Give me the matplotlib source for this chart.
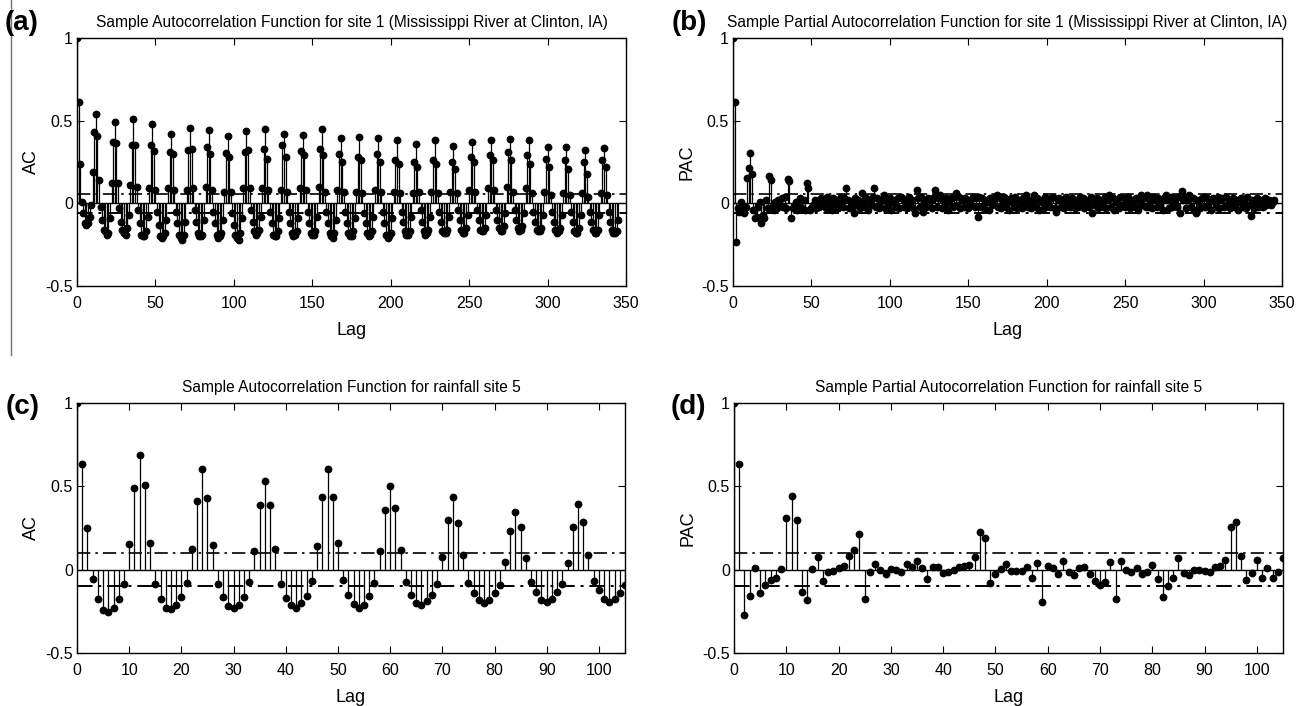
import numpy as np
import matplotlib
matplotlib.use("Agg")
import matplotlib.pyplot as plt
from matplotlib.lines import Line2D

plt.rcParams['font.family'] = ['Liberation Sans', 'DejaVu Sans']

# ---------------- data ----------------
# (a) ACF, site 1 (rows of 12 lags starting at lag 0)
acf_site1_rows = [
    [1.000, 0.613, 0.235, 0.01, -0.06, -0.12, -0.13, -0.12, -0.08, -0.01, 0.19, 0.432],
    [0.543, 0.406, 0.14, -0.02, -0.10, -0.16, -0.17, -0.19, -0.18, -0.09, 0.12, 0.370],
    [0.493, 0.366, 0.12, -0.03, -0.11, -0.16, -0.18, -0.19, -0.15, -0.07, 0.11, 0.354],
    [0.509, 0.352, 0.10, -0.04, -0.12, -0.19, -0.20, -0.20, -0.17, -0.08, 0.09, 0.352],
    [0.478, 0.318, 0.08, -0.05, -0.13, -0.20, -0.21, -0.20, -0.18, -0.10, 0.09, 0.310],
    [0.418, 0.300, 0.08, -0.05, -0.12, -0.19, -0.21, -0.22, -0.19, -0.11, 0.08, 0.320],
    [0.456, 0.330, 0.09, -0.04, -0.11, -0.18, -0.20, -0.20, -0.19, -0.10, 0.10, 0.342],
    [0.443, 0.297, 0.08, -0.05, -0.12, -0.19, -0.21, -0.20, -0.18, -0.10, 0.07, 0.305],
    [0.406, 0.280, 0.07, -0.06, -0.13, -0.19, -0.21, -0.22, -0.18, -0.09, 0.09, 0.313],
    [0.437, 0.320, 0.09, -0.04, -0.11, -0.17, -0.19, -0.18, -0.16, -0.08, 0.09, 0.331],
    [0.448, 0.270, 0.08, -0.05, -0.12, -0.19, -0.20, -0.20, -0.17, -0.09, 0.08, 0.350],
    [0.418, 0.280, 0.07, -0.05, -0.12, -0.18, -0.20, -0.19, -0.17, -0.09, 0.09, 0.315],
    [0.412, 0.290, 0.08, -0.05, -0.12, -0.18, -0.19, -0.19, -0.17, -0.08, 0.10, 0.330],
    [0.449, 0.290, 0.07, -0.05, -0.12, -0.18, -0.20, -0.21, -0.18, -0.10, 0.08, 0.300],
    [0.398, 0.250, 0.07, -0.05, -0.12, -0.18, -0.20, -0.20, -0.17, -0.09, 0.07, 0.280],
    [0.400, 0.260, 0.06, -0.06, -0.12, -0.18, -0.20, -0.19, -0.17, -0.08, 0.08, 0.300],
    [0.398, 0.250, 0.07, -0.05, -0.12, -0.19, -0.21, -0.20, -0.18, -0.09, 0.07, 0.265],
    [0.382, 0.240, 0.06, -0.05, -0.11, -0.17, -0.19, -0.19, -0.17, -0.08, 0.06, 0.250],
    [0.357, 0.220, 0.07, -0.04, -0.11, -0.17, -0.19, -0.18, -0.16, -0.08, 0.07, 0.260],
    [0.386, 0.240, 0.06, -0.05, -0.11, -0.17, -0.18, -0.18, -0.16, -0.08, 0.07, 0.250],
    [0.348, 0.210, 0.06, -0.04, -0.10, -0.16, -0.18, -0.18, -0.15, -0.07, 0.08, 0.280],
    [0.372, 0.250, 0.07, -0.04, -0.10, -0.16, -0.17, -0.17, -0.15, -0.07, 0.09, 0.295],
    [0.386, 0.260, 0.08, -0.04, -0.10, -0.15, -0.17, -0.17, -0.14, -0.06, 0.10, 0.310],
    [0.392, 0.260, 0.07, -0.04, -0.10, -0.15, -0.17, -0.16, -0.14, -0.06, 0.09, 0.290],
    [0.386, 0.235, 0.06, -0.05, -0.11, -0.16, -0.17, -0.17, -0.15, -0.07, 0.07, 0.270],
    [0.342, 0.220, 0.05, -0.05, -0.11, -0.16, -0.18, -0.17, -0.15, -0.07, 0.06, 0.265],
    [0.338, 0.210, 0.05, -0.05, -0.11, -0.17, -0.18, -0.18, -0.15, -0.07, 0.06, 0.250],
    [0.322, 0.180, 0.04, -0.05, -0.11, -0.16, -0.18, -0.18, -0.16, -0.07, 0.06, 0.260],
    [0.333, 0.220, 0.05, -0.05, -0.11, -0.16, -0.18, -0.18, -0.17, -0.10],
]

# (b) PACF, site 1 (rows of 12 lags starting at lag 0)
pacf_site1_rows = [
    [1.000, 0.613, -0.235, -0.03, -0.05, 0.01, -0.04, -0.06, -0.02, 0.155, 0.215, 0.305],
    [0.180, -0.04, -0.09, -0.08, -0.02, 0.01, -0.12, -0.07, -0.09, 0.02, -0.03, 0.166],
    [0.143, -0.02, -0.04, 0.01, -0.03, 0.02, -0.01, 0.03, -0.02, 0.04, -0.03, 0.150],
    [0.135, -0.09, -0.03, -0.02, 0.01, -0.04, -0.02, 0.03, -0.03, 0.02, -0.04, 0.120],
    [0.095, -0.04, -0.03, -0.01, 0.02, -0.03, 0.01, -0.02, 0.03, -0.01, 0.02, -0.03],
    [0.040, -0.02, 0.01, -0.04, 0.03, -0.01, 0.02, -0.03, 0.01, 0.04, -0.02, 0.03],
    [0.090, 0.02, -0.03, 0.01, -0.02, -0.06, 0.03, -0.01, 0.02, -0.03, 0.063, 0.01],
    [-0.020, 0.03, -0.04, 0.02, -0.01, 0.04, 0.09, -0.02, 0.03, -0.03, 0.01, 0.02],
    [0.050, -0.03, 0.02, -0.01, 0.03, -0.04, 0.01, 0.02, -0.02, 0.03, -0.03, 0.04],
    [0.030, -0.02, 0.01, -0.03, 0.04, -0.01, 0.02, -0.03, -0.06, 0.08, 0.03, -0.02],
    [0.040, -0.05, 0.01, -0.02, 0.03, -0.01, 0.02, -0.03, 0.04, 0.08, -0.02, 0.03],
    [0.050, -0.03, 0.02, -0.01, 0.03, -0.04, 0.01, 0.03, -0.02, 0.04, 0.063, -0.01],
    [0.040, -0.03, 0.02, -0.02, 0.03, 0.01, -0.03, 0.02, -0.01, 0.04, -0.02, 0.03],
    [-0.080, 0.04, -0.02, 0.03, -0.03, 0.01, 0.02, -0.04, 0.03, -0.01, 0.02, 0.04],
    [0.050, -0.02, 0.03, -0.03, 0.01, 0.04, -0.02, 0.02, -0.04, 0.03, 0.01, -0.02],
    [0.040, -0.03, 0.02, 0.01, -0.03, 0.03, -0.01, 0.05, -0.02, 0.02, -0.03, 0.01],
    [0.050, -0.02, 0.03, -0.04, 0.02, 0.01, -0.03, 0.04, -0.01, 0.02, -0.02, 0.03],
    [0.040, -0.03, -0.05, 0.02, 0.03, -0.02, 0.01, -0.03, 0.04, -0.01, 0.02, -0.02],
    [0.030, 0.01, -0.03, 0.02, -0.02, 0.04, -0.01, 0.03, -0.03, 0.02, 0.01, -0.02],
    [0.040, -0.06, 0.02, -0.01, 0.03, -0.03, 0.02, 0.01, -0.02, 0.04, -0.03, 0.02],
    [0.050, -0.02, 0.03, -0.04, 0.01, 0.02, -0.03, 0.04, -0.01, 0.03, -0.02, 0.01],
    [0.040, -0.03, 0.02, 0.01, -0.02, 0.03, -0.04, 0.02, 0.05, -0.01, 0.03, -0.02],
    [0.050, -0.02, 0.01, -0.03, 0.04, 0.02, -0.02, 0.03, -0.01, 0.02, -0.04, 0.03],
    [0.050, 0.02, -0.03, 0.04, -0.02, 0.01, 0.03, -0.02, 0.04, -0.06, 0.075, 0.02],
    [0.040, -0.03, 0.02, 0.05, -0.02, 0.03, -0.04, -0.06, 0.02, 0.01, -0.03, 0.03],
    [0.040, -0.02, 0.03, -0.01, 0.02, -0.04, 0.03, 0.01, -0.02, 0.04, -0.03, 0.02],
    [0.030, -0.02, 0.04, -0.01, 0.02, -0.03, 0.01, 0.03, -0.02, 0.02, -0.04, 0.01],
    [0.030, -0.02, 0.02, -0.03, 0.04, -0.01, -0.075, 0.02, -0.03, 0.01, 0.03, -0.02],
    [0.020, 0.01, -0.02, 0.03, -0.01, 0.02, 0.02, -0.01, 0.01, 0.02],
]

# (c) ACF, rainfall site 5, lags 0..105
acf_rain5 = [
    1.000, 0.636, 0.250, -0.054, -0.178, -0.244, -0.254, -0.230, -0.178, -0.084,
    0.154, 0.492, 0.688, 0.506, 0.162, -0.084, -0.178, -0.230, -0.234, -0.214,
    -0.164, -0.078, 0.126, 0.414, 0.606, 0.430, 0.146, -0.084, -0.164, -0.218,
    -0.228, -0.210, -0.164, -0.074, 0.110, 0.390, 0.534, 0.390, 0.126, -0.084,
    -0.170, -0.214, -0.230, -0.198, -0.156, -0.070, 0.140, 0.434, 0.606, 0.434,
    0.158, -0.064, -0.154, -0.208, -0.228, -0.210, -0.158, -0.080, 0.114, 0.356,
    0.504, 0.372, 0.118, -0.072, -0.150, -0.198, -0.210, -0.186, -0.150, -0.084,
    0.074, 0.298, 0.436, 0.282, 0.088, -0.080, -0.140, -0.184, -0.200, -0.184,
    -0.142, -0.094, 0.044, 0.234, 0.348, 0.256, 0.068, -0.074, -0.134, -0.184,
    -0.192, -0.176, -0.132, -0.084, 0.038, 0.258, 0.392, 0.284, 0.088, -0.070,
    -0.122, -0.176, -0.194, -0.176, -0.140, -0.092,
]

# (d) PACF, rainfall site 5, lags 0..105
pacf_rain5 = [
    1.000, 0.636, -0.272, -0.156, 0.012, -0.140, -0.090, -0.064, -0.048, 0.004,
    0.312, 0.442, 0.298, -0.134, -0.184, 0.002, 0.076, -0.068, -0.016, -0.006,
    0.012, 0.020, 0.082, 0.120, 0.212, -0.178, -0.012, 0.032, -0.004, -0.026,
    0.004, 0.000, -0.014, 0.032, 0.014, 0.054, 0.012, -0.054, 0.014, 0.014,
    -0.018, -0.012, -0.004, 0.014, 0.020, 0.030, 0.076, 0.226, 0.192, -0.078,
    -0.024, 0.002, 0.032, -0.010, -0.010, -0.010, 0.014, -0.048, 0.040, -0.192,
    0.022, 0.008, -0.024, 0.054, -0.016, -0.034, 0.012, 0.018, -0.024, -0.066,
    -0.094, -0.074, 0.048, -0.178, 0.054, -0.004, -0.016, 0.008, -0.026, -0.012,
    0.026, -0.056, -0.164, -0.100, -0.048, 0.070, -0.018, -0.034, -0.004, -0.002,
    -0.006, -0.016, 0.018, 0.020, 0.058, 0.256, 0.288, 0.082, -0.062, -0.018,
    0.058, -0.048, 0.010, -0.048, -0.016, 0.068,
]

bound_site1 = 0.056
bound_rain5 = 0.098

titles = [
    "Sample Autocorrelation Function for site 1 (Mississippi River at Clinton, IA)",
    "Sample Partial Autocorrelation Function for site 1 (Mississippi River at Clinton, IA)",
    "Sample Autocorrelation Function for rainfall site 5",
    "Sample Partial Autocorrelation Function for rainfall site 5",
]
panel_labels = ["(a)", "(b)", "(c)", "(d)"]
ylabels = ["AC", "PAC", "AC", "PAC"]

acf_site1 = [v for row in acf_site1_rows for v in row]
pacf_site1 = [v for row in pacf_site1_rows for v in row]
series = [acf_site1, pacf_site1, acf_rain5, pacf_rain5]
bounds = [bound_site1, bound_site1, bound_rain5, bound_rain5]
xlims = [350, 350, 105, 105]
xticks = [np.arange(0, 351, 50), np.arange(0, 351, 50), np.arange(0, 101, 10), np.arange(0, 101, 10)]

# ---------------- figure ----------------
W, H = 1304, 706
fig = plt.figure(figsize=(W / 100, H / 100), dpi=100)

def rect(l, t, r, b):
    return [l / W, 1 - b / H, (r - l) / W, (b - t) / H]

rects = [rect(77, 38, 626, 286), rect(733, 38, 1282, 286),
         rect(77, 403, 625, 653), rect(734, 403, 1283, 653)]
label_pos = [(5, 23), (672, 23), (6, 407), (671, 407)]

for i in range(4):
    ax = fig.add_axes(rects[i])
    y = np.array(series[i])
    x = np.arange(len(y))
    ax.vlines(x, 0, y, color='k', lw=0.9, zorder=2)
    ax.plot(x, y, 'o', color='k', ms=4.6, zorder=3)
    ax.axhline(0, color='k', lw=1.0, zorder=2)
    ax.axhline(bounds[i], color='k', lw=1.2, ls=(0, (8, 3, 1.5, 3)), zorder=1)
    ax.axhline(-bounds[i], color='k', lw=1.4, ls=(0, (8, 3, 1.5, 3)), zorder=1)
    ax.set_xlim(0, xlims[i])
    ax.set_ylim(-0.5, 1)
    ax.set_xticks(xticks[i])
    ax.set_yticks([-0.5, 0, 0.5, 1])
    ax.set_yticklabels(["-0.5", "0", "0.5", "1"])
    ax.tick_params(direction='in', length=5, width=0.8, top=True, right=True,
                   labelsize=11.5)
    ax.tick_params(axis='x', pad=7)
    ax.tick_params(axis='y', pad=3)
    for s in ax.spines.values():
        s.set_linewidth(1.0)
    ax.set_title(titles[i], fontsize=11.2, pad=8)
    ax.set_xlabel("Lag", fontsize=13, labelpad=8)
    ax.set_ylabel(ylabels[i], fontsize=13, labelpad=4)
    fig.text(label_pos[i][0] / W, 1 - label_pos[i][1] / H, panel_labels[i],
             fontsize=20, fontweight='bold', ha='left', va='center')

# thin crop line at far left
fig.add_artist(Line2D([11 / W, 11 / W], [1, 1 - 355 / H], color='0.45', lw=1.0))

fig.savefig("out.png", dpi=100)
